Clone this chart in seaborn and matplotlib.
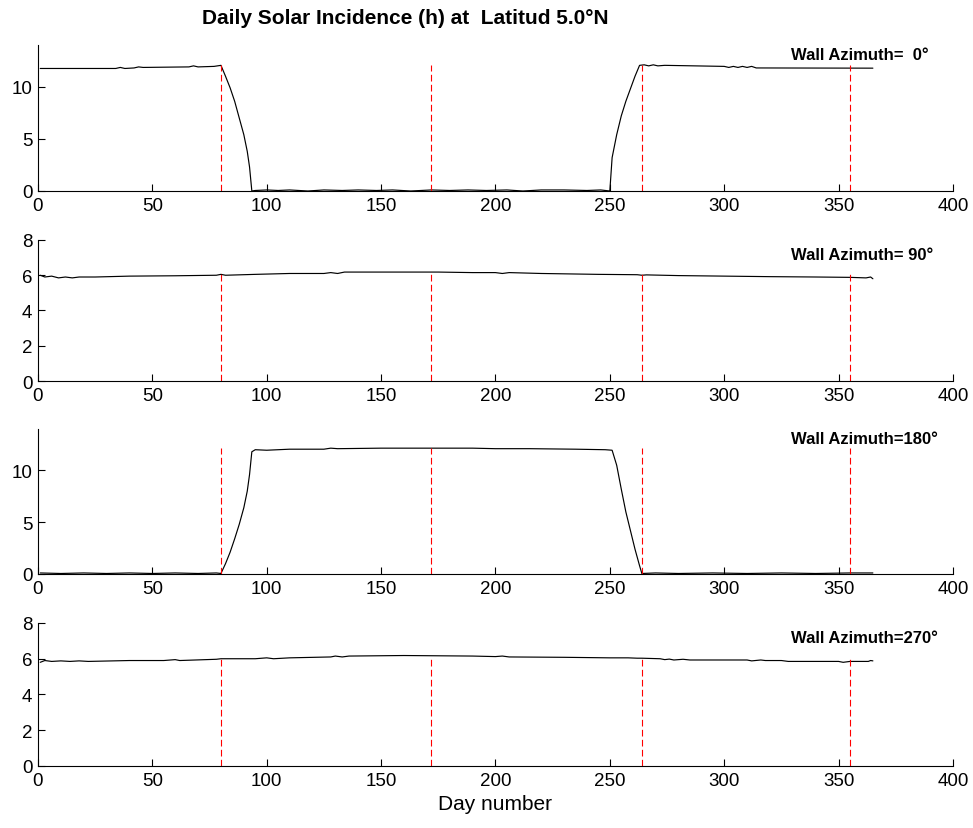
import matplotlib
matplotlib.use('Agg')
import matplotlib.pyplot as plt
import seaborn as sns
import pandas as pd

sns.set_style('ticks')
plt.rcParams['font.family'] = ['Liberation Sans', 'DejaVu Sans']
plt.rcParams.update({'text.color': 'black', 'axes.labelcolor': 'black',
                     'xtick.color': 'black', 'ytick.color': 'black',
                     'axes.edgecolor': 'black'})

# wall azimuths of the four panels and the solstice/equinox markers
azimuths = [0, 90, 180, 270]
marker_days = [80, 172, 264, 355]

# hours of solar incidence
az0_days = [1, 34, 36, 38, 42, 44, 46, 66, 68, 70, 77, 80, 82, 84, 86, 88, 90, 91.5, 92.5, 93.5,
            95, 100, 105, 110, 118, 125, 133, 140, 148, 155, 163, 172, 180, 188, 196, 205, 212,
            220, 230, 240, 246, 250, 251, 253, 255, 257, 259, 261, 263, 265, 267, 269, 271, 274,
            300, 302, 304, 306, 308, 310, 312, 314, 365]
az0_hours = [11.75, 11.75, 11.85, 11.75, 11.8, 11.9, 11.85, 11.9, 12.0, 11.9, 11.95, 12.05, 11.0,
             9.9, 8.6, 7.0, 5.4, 3.8, 2.3, 0.0,
             0.05, 0.1, 0.05, 0.1, 0.0, 0.1, 0.05, 0.1, 0.05, 0.1, 0.0, 0.1, 0.05, 0.1, 0.05, 0.1, 0.0,
             0.1, 0.1, 0.05, 0.1, 0.0, 3.2, 5.4, 7.2, 8.6, 9.8, 11.0, 12.05, 12.1, 12.0, 12.1, 12.0, 12.05,
             11.95, 11.85, 11.95, 11.85, 11.95, 11.85, 11.95, 11.8, 11.78]

az90_days = [1, 3, 6, 9, 12, 15, 18, 25, 40, 60, 78, 80, 82, 95, 110, 125, 128, 131, 134,
             160, 175, 190, 200, 203, 206, 220, 230, 245, 262, 264, 266, 280, 300, 320, 340,
             355, 362, 364, 365]
az90_hours = [6.0, 5.9, 5.95, 5.85, 5.9, 5.85, 5.9, 5.9, 5.95, 5.97, 6.0, 6.05, 6.0, 6.05, 6.1,
              6.1, 6.15, 6.1, 6.18, 6.18, 6.18, 6.15, 6.15, 6.1, 6.15, 6.1, 6.08, 6.05, 6.03, 6.0,
              6.02, 5.98, 5.95, 5.92, 5.9, 5.88, 5.85, 5.9, 5.8]

az180_days = [1, 10, 20, 30, 40, 50, 60, 70, 78, 80, 82, 84, 86, 88, 90, 91.5, 92.5, 93.5, 95,
              100, 110, 125, 128, 131, 150, 172, 190, 200, 215, 235, 248, 251, 253, 255, 257,
              259, 261, 263, 264, 270, 280, 295, 310, 325, 340, 355, 365]
az180_hours = [0.1, 0.05, 0.1, 0.05, 0.1, 0.05, 0.1, 0.05, 0.1, 0.05, 1.0, 2.1, 3.4, 4.8, 6.4, 8.0,
               9.6, 11.8, 12.0, 11.95, 12.05, 12.05, 12.15, 12.1, 12.15, 12.15, 12.15, 12.1, 12.1,
               12.05, 12.0, 11.95, 10.5, 8.2, 6.0, 4.2, 2.4, 0.8, 0.05, 0.1, 0.05, 0.1, 0.05, 0.1,
               0.05, 0.1, 0.1]

az270_days = [1, 3, 6, 10, 14, 18, 22, 40, 55, 60, 62, 78, 80, 95, 100, 103, 110, 128, 130, 133,
              136, 160, 190, 200, 203, 206, 230, 250, 258, 262, 264, 272, 274, 276, 278, 282, 285,
              300, 310, 312, 316, 318, 325, 328, 350, 352, 355, 360, 363, 364, 365]
az270_hours = [5.8, 5.9, 5.85, 5.88, 5.85, 5.88, 5.85, 5.9, 5.9, 5.95, 5.9, 5.97, 6.0, 6.0, 6.05,
               6.0, 6.05, 6.1, 6.15, 6.1, 6.15, 6.18, 6.15, 6.12, 6.15, 6.1, 6.08, 6.05, 6.05, 6.03,
               6.03, 6.0, 5.95, 5.98, 5.93, 5.97, 5.93, 5.93, 5.93, 5.88, 5.93, 5.9, 5.9, 5.85, 5.85,
               5.8, 5.85, 5.85, 5.85, 5.9, 5.88]

panels = [(az0_days, az0_hours), (az90_days, az90_hours),
          (az180_days, az180_hours), (az270_days, az270_hours)]

fig = plt.figure(figsize=(9.73, 8.29), dpi=100)

# axes boxes (left, bottom, width, height) in figure fractions
boxes = [(0.039, 0.7684, 0.9404, 0.1761),
         (0.039, 0.5392, 0.9404, 0.1701),
         (0.039, 0.3064, 0.9404, 0.1749),
         (0.039, 0.0748, 0.9404, 0.1725)]
ytops = [14, 8, 14, 8]
yticks = [[0, 5, 10], [0, 2, 4, 6, 8], [0, 5, 10], [0, 2, 4, 6, 8]]
label_frac = [0.935, 0.9, 0.935, 0.9]

axes = []
for i, (az, (days, hours)) in enumerate(zip(azimuths, panels)):
    ax = fig.add_axes(boxes[i])
    df = pd.DataFrame({'day': days, 'hours': hours})
    sns.lineplot(data=df, x='day', y='hours', ax=ax, color='black', lw=0.85)
    ax.vlines(marker_days, 0, max(hours), colors='red', linestyles=(0, (6, 3)), lw=0.8)
    ax.set_xlim(0, 400)
    ax.set_xticks(range(0, 401, 50))
    ax.set_ylim(0, ytops[i])
    ax.set_yticks(yticks[i])
    ax.tick_params(direction='in', length=5, width=0.8, labelsize=13.5, pad=4, colors='black')
    sns.despine(ax=ax)
    for s in ['left', 'bottom']:
        ax.spines[s].set_linewidth(0.8)
        ax.spines[s].set_color('black')
    ax.set_xlabel('')
    ax.set_ylabel('')
    ax.text(329, ytops[i] * label_frac[i], f'Wall Azimuth={az:3d}°',
            fontsize=12, fontweight='bold', va='center', ha='left', color='black')
    axes.append(ax)

axes[-1].set_xlabel('Day number', fontsize=15, labelpad=4, color='black')

fig.text(0.417, 1 - 18 / 829, 'Daily Solar Incidence (h) at  Latitud 5.0°N',
         fontsize=15, fontweight='bold', ha='center', va='center', color='black')

fig.savefig('out.png', dpi=100)
